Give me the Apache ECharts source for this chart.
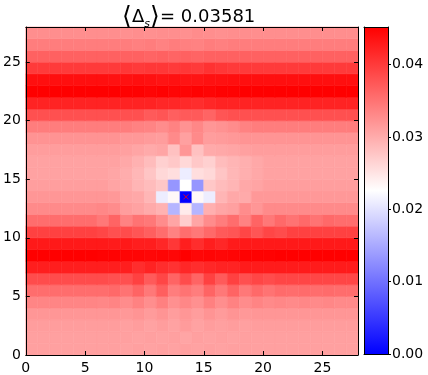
<!DOCTYPE html>
<html>
<head>
<meta charset="utf-8">
<script src="https://cdn.jsdelivr.net/npm/echarts@6/dist/echarts.min.js"></script>
<style>
  html, body { margin: 0; padding: 0; background: #fff; }
  #chart { width: 428px; height: 375px; }
</style>
</head>
<body>
<div id="chart"></div>
<script>
'use strict';

// gap values per site, rows listed from y = 0 (bottom) to y = 27 (top)
const gapRows = [
    [.0310,.0310,.0310,.0310,.0310,.0310,.0310,.0310,.0308,.0310,.0308,.0310,.0308,.0310,.0308,.0310,.0308,.0310,.0310,.0310,.0310,.0310,.0310,.0310,.0310,.0310,.0310,.0310],
    [.0310,.0310,.0310,.0310,.0310,.0310,.0310,.0310,.0310,.0308,.0310,.0308,.0310,.0306,.0310,.0308,.0310,.0308,.0310,.0310,.0310,.0310,.0310,.0310,.0310,.0310,.0310,.0310],
    [.0313,.0313,.0313,.0313,.0313,.0313,.0313,.0313,.0310,.0313,.0308,.0313,.0308,.0315,.0308,.0313,.0310,.0313,.0310,.0313,.0313,.0313,.0313,.0313,.0313,.0313,.0313,.0313],
    [.0319,.0319,.0319,.0319,.0319,.0319,.0319,.0319,.0317,.0321,.0315,.0321,.0313,.0319,.0313,.0321,.0315,.0321,.0317,.0319,.0319,.0319,.0319,.0319,.0319,.0319,.0319,.0319],
    [.0334,.0334,.0334,.0334,.0334,.0334,.0332,.0335,.0328,.0337,.0326,.0339,.0324,.0332,.0324,.0339,.0326,.0337,.0328,.0335,.0330,.0332,.0330,.0332,.0330,.0332,.0330,.0330],
    [.0355,.0355,.0355,.0355,.0355,.0355,.0355,.0359,.0350,.0363,.0346,.0368,.0341,.0350,.0341,.0363,.0346,.0363,.0346,.0359,.0350,.0357,.0355,.0357,.0355,.0357,.0355,.0355],
    [.0385,.0385,.0385,.0385,.0385,.0385,.0385,.0381,.0381,.0394,.0372,.0390,.0363,.0385,.0363,.0394,.0372,.0394,.0381,.0390,.0385,.0390,.0390,.0390,.0390,.0390,.0390,.0390],
    [.0425,.0425,.0425,.0425,.0425,.0425,.0425,.0425,.0425,.0412,.0421,.0412,.0408,.0417,.0412,.0417,.0421,.0421,.0428,.0428,.0428,.0428,.0428,.0428,.0428,.0428,.0428,.0428],
    [.0452,.0452,.0452,.0452,.0452,.0452,.0450,.0450,.0448,.0448,.0446,.0448,.0446,.0452,.0446,.0448,.0446,.0448,.0450,.0450,.0450,.0452,.0452,.0452,.0452,.0452,.0452,.0452],
    [.0430,.0430,.0430,.0430,.0430,.0430,.0430,.0428,.0430,.0425,.0425,.0417,.0403,.0425,.0412,.0425,.0417,.0428,.0430,.0430,.0430,.0430,.0430,.0430,.0430,.0430,.0430,.0430],
    [.0394,.0394,.0394,.0394,.0394,.0394,.0390,.0381,.0385,.0377,.0368,.0355,.0337,.0355,.0346,.0359,.0372,.0377,.0390,.0377,.0390,.0385,.0394,.0394,.0394,.0394,.0394,.0394],
    [.0355,.0355,.0355,.0355,.0355,.0355,.0346,.0363,.0337,.0350,.0346,.0328,.0306,.0270,.0306,.0328,.0341,.0355,.0337,.0363,.0346,.0359,.0350,.0359,.0350,.0359,.0355,.0355],
    [.0330,.0330,.0330,.0330,.0330,.0330,.0332,.0328,.0313,.0308,.0301,.0294,.0160,.0244,.0160,.0297,.0306,.0310,.0328,.0319,.0330,.0330,.0330,.0330,.0330,.0330,.0330,.0330],
    [.0319,.0319,.0319,.0319,.0319,.0319,.0319,.0317,.0306,.0303,.0291,.0210,.0232,.0000,.0232,.0210,.0292,.0303,.0301,.0317,.0317,.0317,.0317,.0317,.0317,.0317,.0317,.0317],
    [.0312,.0312,.0312,.0312,.0312,.0312,.0312,.0307,.0301,.0292,.0285,.0276,.0133,.0226,.0133,.0276,.0285,.0292,.0303,.0307,.0312,.0312,.0312,.0312,.0312,.0312,.0312,.0312],
    [.0308,.0308,.0308,.0308,.0308,.0308,.0308,.0305,.0299,.0290,.0277,.0261,.0255,.0210,.0255,.0261,.0277,.0290,.0297,.0303,.0308,.0308,.0308,.0308,.0308,.0308,.0308,.0308],
    [.0308,.0308,.0308,.0308,.0308,.0308,.0308,.0308,.0303,.0295,.0285,.0268,.0275,.0261,.0275,.0268,.0285,.0292,.0297,.0303,.0308,.0308,.0308,.0308,.0308,.0308,.0308,.0308],
    [.0313,.0313,.0313,.0313,.0313,.0313,.0313,.0313,.0310,.0306,.0301,.0306,.0281,.0319,.0281,.0301,.0303,.0306,.0310,.0313,.0313,.0313,.0313,.0313,.0313,.0313,.0313,.0313],
    [.0322,.0322,.0322,.0322,.0322,.0322,.0322,.0322,.0317,.0317,.0315,.0313,.0330,.0310,.0330,.0313,.0315,.0317,.0321,.0321,.0321,.0321,.0321,.0321,.0321,.0321,.0321,.0321],
    [.0341,.0341,.0341,.0341,.0341,.0341,.0341,.0341,.0341,.0337,.0335,.0328,.0337,.0323,.0332,.0319,.0323,.0328,.0337,.0341,.0341,.0341,.0341,.0341,.0341,.0341,.0341,.0341],
    [.0381,.0381,.0381,.0381,.0381,.0381,.0381,.0381,.0381,.0381,.0372,.0377,.0368,.0372,.0372,.0363,.0377,.0381,.0381,.0381,.0381,.0381,.0381,.0381,.0381,.0381,.0381,.0381],
    [.0421,.0421,.0421,.0421,.0421,.0421,.0421,.0421,.0421,.0421,.0421,.0417,.0417,.0415,.0412,.0417,.0421,.0421,.0421,.0421,.0421,.0421,.0421,.0421,.0421,.0421,.0421,.0421],
    [.0452,.0452,.0452,.0452,.0452,.0452,.0452,.0452,.0450,.0450,.0448,.0450,.0448,.0448,.0450,.0448,.0450,.0450,.0452,.0452,.0452,.0452,.0452,.0452,.0452,.0452,.0452,.0452],
    [.0439,.0439,.0439,.0439,.0439,.0439,.0439,.0437,.0437,.0439,.0437,.0434,.0437,.0434,.0434,.0437,.0437,.0439,.0439,.0439,.0439,.0439,.0439,.0439,.0439,.0439,.0439,.0439],
    [.0401,.0401,.0401,.0401,.0401,.0401,.0401,.0401,.0403,.0401,.0403,.0403,.0401,.0403,.0401,.0408,.0403,.0401,.0401,.0401,.0401,.0401,.0401,.0401,.0401,.0401,.0401,.0401],
    [.0366,.0366,.0366,.0366,.0366,.0366,.0366,.0366,.0366,.0366,.0363,.0366,.0363,.0366,.0363,.0366,.0366,.0366,.0366,.0366,.0366,.0366,.0366,.0366,.0366,.0366,.0366,.0366],
    [.0341,.0341,.0341,.0341,.0341,.0341,.0341,.0341,.0341,.0339,.0341,.0337,.0341,.0339,.0337,.0341,.0339,.0341,.0341,.0341,.0341,.0341,.0341,.0341,.0341,.0341,.0341,.0341],
    [.0326,.0326,.0326,.0326,.0326,.0326,.0326,.0326,.0324,.0326,.0324,.0326,.0326,.0324,.0328,.0326,.0324,.0326,.0326,.0326,.0326,.0326,.0326,.0326,.0326,.0326,.0326,.0326]
];
const xTicks = [0, 5, 10, 15, 20, 25];
const yTicks = [0, 5, 10, 15, 20, 25];
const colorTicks = [0, 0.01, 0.02, 0.03, 0.04];
const colorMin = 0;
const colorMax = 0.0452;
const meanGap = '0.03581';
const defectCells = [[13, 13]];

const latticeSize = gapRows.length;
const FONT = 'DejaVu Sans';
const BWR = ['#0000ff', '#ffffff', '#ff0000'];

const cells = [];
gapRows.forEach(function (row, y) {
    row.forEach(function (v, x) {
        cells.push([x, y, v]);
    });
});

function frameAxis(opts) {
    return Object.assign({
        type: 'value',
        min: 0,
        max: latticeSize,
        z: 10,
        splitLine: { show: false },
        axisLine: { show: true, onZero: false, lineStyle: { color: '#000', width: 1 } },
        axisTick: { show: true, inside: true, length: 4, lineStyle: { color: '#000' }, customValues: xTicks },
        axisLabel: { show: false }
    }, opts);
}

const labelStyle = { color: '#000', fontFamily: FONT, fontSize: 14 };

const chart = echarts.init(document.getElementById('chart'));

chart.setOption({
    animation: false,
    backgroundColor: '#fff',
    title: {
        text: '{b|⟨}Δ{s|s}{b|⟩}= ' + meanGap,
        left: 117,
        top: 0,
        textStyle: {
            color: '#000',
            fontFamily: FONT,
            fontSize: 18,
            fontWeight: 'normal',
            rich: {
                b: { fontSize: 25, fontFamily: FONT, color: '#000', fontWeight: 'lighter' },
                s: { fontSize: 11, fontFamily: FONT, fontStyle: 'italic', color: '#000', verticalAlign: 'bottom', padding: [10, 0, 0, 0] }
            }
        }
    },
    grid: [
        { left: 24, top: 27, width: 334, height: 328 },
        { left: 364, top: 27, width: 24, height: 327 }
    ],
    xAxis: [
        frameAxis({
            gridIndex: 0, position: 'bottom',
            axisLabel: Object.assign({ show: true, margin: 6, customValues: xTicks }, labelStyle)
        }),
        frameAxis({ gridIndex: 0, position: 'top' }),
        { type: 'value', gridIndex: 1, min: 0, max: 1, position: 'bottom', z: 10,
          splitLine: { show: false }, axisTick: { show: false }, axisLabel: { show: false },
          axisLine: { show: true, onZero: false, lineStyle: { color: '#000' } } },
        { type: 'value', gridIndex: 1, min: 0, max: 1, position: 'top', z: 10,
          splitLine: { show: false }, axisTick: { show: false }, axisLabel: { show: false },
          axisLine: { show: true, onZero: false, lineStyle: { color: '#000' } } }
    ],
    yAxis: [
        frameAxis({
            gridIndex: 0, position: 'left',
            axisTick: { show: true, inside: true, length: 4, lineStyle: { color: '#000' }, customValues: yTicks },
            axisLabel: Object.assign({ show: true, margin: 5, customValues: yTicks }, labelStyle)
        }),
        frameAxis({
            gridIndex: 0, position: 'right',
            axisTick: { show: true, inside: true, length: 4, lineStyle: { color: '#000' }, customValues: yTicks }
        }),
        { type: 'value', gridIndex: 1, min: colorMin, max: colorMax, position: 'right', z: 10,
          splitLine: { show: false },
          axisLine: { show: true, onZero: false, lineStyle: { color: '#000' } },
          axisTick: { show: true, inside: false, length: 3, lineStyle: { color: '#000' }, customValues: colorTicks },
          axisLabel: Object.assign({ show: true, margin: 4, customValues: colorTicks,
              formatter: function (v) { return v.toFixed(2); } }, labelStyle) },
        { type: 'value', gridIndex: 1, min: colorMin, max: colorMax, position: 'left', z: 10,
          splitLine: { show: false }, axisTick: { show: false }, axisLabel: { show: false },
          axisLine: { show: true, onZero: false, lineStyle: { color: '#000' } } }
    ],
    visualMap: {
        show: false,
        type: 'continuous',
        seriesIndex: 0,
        dimension: 2,
        min: colorMin,
        max: colorMax,
        inRange: { color: BWR }
    },
    series: [
        {
            type: 'custom',
            xAxisIndex: 0,
            yAxisIndex: 0,
            data: cells,
            encode: { x: 0, y: 1 },
            renderItem: function (params, api) {
                const x = api.value(0);
                const y = api.value(1);
                const p0 = api.coord([x, y + 1]);
                const p1 = api.coord([x + 1, y]);
                const c = api.visual('color');
                return {
                    type: 'rect',
                    shape: { x: p0[0], y: p0[1], width: p1[0] - p0[0], height: p1[1] - p0[1] },
                    style: { fill: c, stroke: c, lineWidth: 0.6 }
                };
            }
        },
        {
            type: 'scatter',
            xAxisIndex: 0,
            yAxisIndex: 0,
            z: 5,
            data: defectCells.map(function (d) { return [d[0] + 0.5, d[1] + 0.5]; }),
            symbol: 'path://M0,0L10,10M10,0L0,10',
            symbolSize: 5,
            itemStyle: { color: 'none', borderColor: '#ff0000', borderWidth: 1 }
        },
        {
            type: 'custom',
            xAxisIndex: 2,
            yAxisIndex: 2,
            data: [[0, colorMin, 1, colorMax]],
            renderItem: function (params, api) {
                const p0 = api.coord([api.value(0), api.value(3)]);
                const p1 = api.coord([api.value(2), api.value(1)]);
                return {
                    type: 'rect',
                    shape: { x: p0[0], y: p0[1], width: p1[0] - p0[0], height: p1[1] - p0[1] },
                    style: {
                        fill: new echarts.graphic.LinearGradient(0, 1, 0, 0, [
                            { offset: 0, color: BWR[0] },
                            { offset: 0.5, color: BWR[1] },
                            { offset: 1, color: BWR[2] }
                        ])
                    }
                };
            }
        }
    ]
});

window.addEventListener('resize', function () {
    chart.resize();
});
</script>
</body>
</html>
